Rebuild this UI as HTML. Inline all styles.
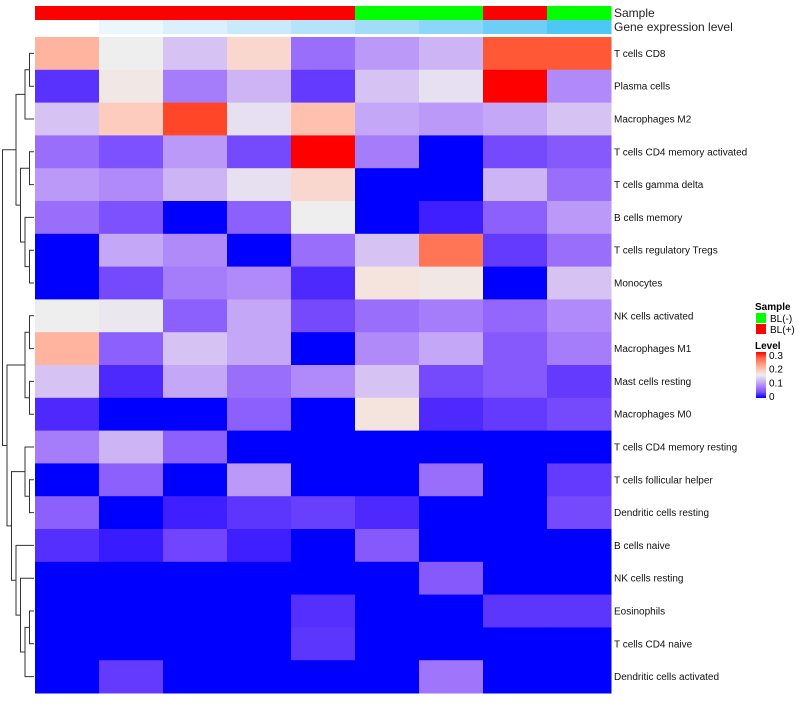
<!DOCTYPE html>
<html><head><meta charset="utf-8"><style>
body{margin:0;background:#fff;font-family:"Liberation Sans",sans-serif}
svg text{font-family:"Liberation Sans",sans-serif}
</style></head><body>
<svg id="c" width="800" height="700" xmlns="http://www.w3.org/2000/svg"></svg>
<script>
const rows=["T cells CD8","Plasma cells","Macrophages M2","T cells CD4 memory activated","T cells gamma delta","B cells memory","T cells regulatory  Tregs","Monocytes","NK cells activated","Macrophages M1","Mast cells resting","Macrophages M0","T cells CD4 memory resting","T cells follicular helper","Dendritic cells resting","B cells naive","NK cells resting","Eosinophils","T cells CD4 naive","Dendritic cells activated"];
const sampleGroups=["BL(+)","BL(+)","BL(+)","BL(+)","BL(+)","BL(-)","BL(-)","BL(+)","BL(-)"];
const geneColors=["#ffffff","#ebf6fd","#dcf0fc","#c9eafb","#b5e3f9","#a2dcf8","#8cd6fa","#6dcff8","#4dc8f5"];
const values=[
[0.2,0.15,0.12,0.17,0.06,0.09,0.11,0.27,0.27],
[0.02,0.155,0.07,0.11,0.025,0.12,0.14,0.3,0.08],
[0.12,0.18,0.28,0.14,0.19,0.1,0.09,0.1,0.12],
[0.06,0.04,0.09,0.035,0.3,0.07,0.0,0.035,0.045],
[0.09,0.08,0.11,0.14,0.17,0,0,0.11,0.06],
[0.06,0.04,0,0.05,0.15,0,0.01,0.05,0.09],
[0,0.1,0.08,0,0.06,0.12,0.25,0.025,0.06],
[0,0.035,0.07,0.08,0.015,0.16,0.155,0,0.12],
[0.15,0.145,0.05,0.1,0.035,0.06,0.07,0.055,0.08],
[0.2,0.05,0.12,0.1,0,0.08,0.1,0.045,0.07],
[0.12,0.015,0.1,0.06,0.08,0.12,0.035,0.045,0.025],
[0.015,0,0,0.05,0,0.16,0.015,0.025,0.035],
[0.07,0.11,0.05,0,0,0,0,0,0],
[0,0.05,0,0.09,0,0,0.06,0,0.025],
[0.05,0,0.01,0.022,0.028,0.015,0,0,0.035],
[0.018,0.008,0.032,0.01,0,0.045,0,0,0],
[0,0,0,0,0,0,0.045,0,0],
[0,0,0,0,0.018,0,0,0.022,0.022],
[0,0,0,0,0.022,0,0,0,0],
[0,0.025,0,0,0,0,0.065,0,0]];
const legendTicks=[0,0.1,0.2,0.3];
const NS="http://www.w3.org/2000/svg",svg=document.getElementById('c');
function mk(t,a,p){const e=document.createElementNS(NS,t);for(const k in a)e.setAttribute(k,a[k]);(p||svg).appendChild(e);return e;}
const X0=35,CW=64,Y0=37,RH=32.8;
const xs=i=>X0+i*CW, ys=j=>Y0+j*RH;
function toLin(c){c/=255;return c<=0.04045?c/12.92:Math.pow((c+0.055)/1.055,2.4);}
function fromLin(c){c=c<=0.0031308?12.92*c:1.055*Math.pow(c,1/2.4)-0.055;return Math.max(0,Math.min(255,Math.round(c*255)));}
function f(t){return t>0.008856?Math.cbrt(t):7.787*t+16/116;}
function fi(t){return t>0.206893?t*t*t:(t-16/116)/7.787;}
function rgb2lab(c){const [r,g,b]=c.map(toLin);
 const x=(0.4124*r+0.3576*g+0.1805*b)/0.95047,y=0.2126*r+0.7152*g+0.0722*b,z=(0.0193*r+0.1192*g+0.9505*b)/1.08883;
 return [116*f(y)-16,500*(f(x)-f(y)),200*(f(y)-f(z))];}
function lab2rgb(l){const fy=(l[0]+16)/116,fx=fy+l[1]/500,fz=fy-l[2]/200;
 const x=fi(fx)*0.95047,y=fi(fy),z=fi(fz)*1.08883;
 const r=3.2406*x-1.5372*y-0.4986*z,g=-0.9689*x+1.8758*y+0.0415*z,b=0.0557*x-0.2040*y+1.0570*z;
 return [r,g,b].map(fromLin);}
const LB=rgb2lab([0,0,255]),LW=rgb2lab([238,238,238]),LR=rgb2lab([255,0,0]);
function col(v){const t=Math.max(0,Math.min(1,v/0.3));let a,b,u;
 if(t<0.5){a=LB;b=LW;u=t/0.5;}else{a=LW;b=LR;u=(t-0.5)/0.5;}
 const c=lab2rgb(a.map((x,i)=>x+(b[i]-x)*u));return `rgb(${c})`;}
const sCol={"BL(+)":"#ff0000","BL(-)":"#00ff00"};
sampleGroups.forEach((g,i)=>{const r=mk('rect',{x:xs(i),y:6,width:CW+0.5,height:14,fill:sCol[g]});
});
geneColors.forEach((g,i)=>{const r=mk('rect',{x:xs(i),y:20,width:CW+0.5,height:14,fill:g});
});
let t=mk('text',{x:614,y:17,'font-size':12,fill:'#222'});t.textContent='Sample';

t=mk('text',{x:614,y:31,'font-size':12,fill:'#222'});t.textContent='Gene expression level';

values.forEach((row,j)=>{row.forEach((v,i)=>{const r=mk('rect',{x:xs(i),y:ys(j),width:CW+0.5,height:RH+0.5,fill:col(v)});
 });
 const l=mk('text',{x:614,y:ys(j)+RH/2+3.5,'font-size':10,fill:'#111'});l.textContent=rows[j];
 });
const tree=[[[[0,1],2],[[3,4],[5,[6,7]]]],[[[8,9],[10,11]],[[12,[13,14]],[15,[16,[[17,18],19]]]]]];
const g=mk('g',{stroke:'#333','stroke-width':1,fill:'none'});
function depth(n){return Array.isArray(n)?1+Math.max(depth(n[0]),depth(n[1])):0;}
function draw(n){if(!Array.isArray(n))return{y:ys(n)+RH/2,x:34};
 const a=draw(n[0]),b=draw(n[1]);const x=34-depth(n)*4.5;
 mk('path',{d:`M${a.x},${a.y}H${x}V${b.y}H${b.x}`},g);return{y:(a.y+b.y)/2,x};}
draw(tree);
t=mk('text',{x:755,y:310,'font-size':10,'font-weight':'bold',fill:'#000'});t.textContent='Sample';

[["BL(-)","#00ff00"],["BL(+)","#ff0000"]].forEach((e,k)=>{const r=mk('rect',{x:756,y:313+k*11,width:10,height:10,fill:e[1]});
 
 const tt=mk('text',{x:770,y:322+k*11,'font-size':10,fill:'#000'});tt.textContent=e[0];
 });
t=mk('text',{x:755,y:349,'font-size':10,'font-weight':'bold',fill:'#000'});t.textContent='Level';

const defs=mk('defs',{});const lg=mk('linearGradient',{id:'lg',x1:0,y1:1,x2:0,y2:0},defs);
[0,0.125,0.25,0.375,0.5,0.625,0.75,0.875,1].forEach(o=>mk('stop',{offset:o,'stop-color':col(o*0.3)},lg));
const lb=mk('rect',{x:756,y:352,width:10,height:46,fill:'url(#lg)'});
const ly=v=>396-v/0.3*41;
legendTicks.forEach(v=>{const tt=mk('text',{x:769,y:ly(v)+4,'font-size':10,fill:'#000'});tt.textContent=v;
 });
</script></body></html>
